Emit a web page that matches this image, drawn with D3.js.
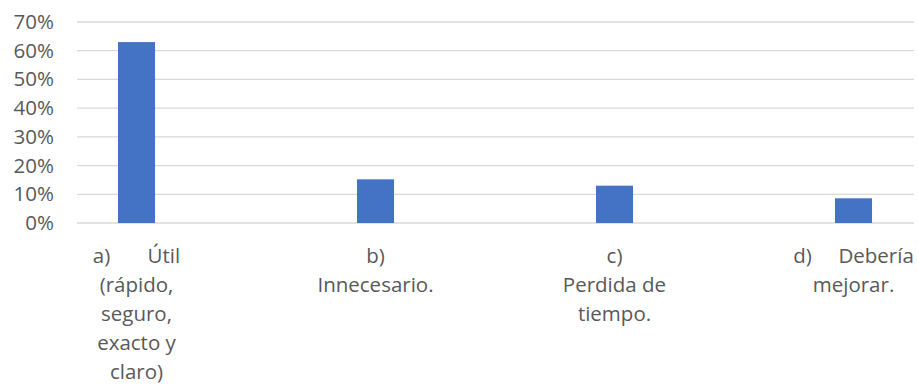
<!DOCTYPE html>
<html>
<head>
<meta charset="utf-8">
<script src="https://cdn.jsdelivr.net/npm/d3@7"></script>
<style>
  html, body { margin: 0; padding: 0; background: #fff; }
  svg { display: block; font-family: "Open Sans", "Noto Sans", sans-serif; }
  .tick text { white-space: pre; }
</style>
</head>
<body>
<svg id="chart" width="918" height="385"></svg>
<script>
// Survey answers and their shares
const categories = ["a", "b", "c", "d"];
const labelLines = [
  ["a)       Útil", "(rápido,", "seguro,", "exacto y", "claro)"],
  ["b)", "Innecesario."],
  ["c)", "Perdida de", "tiempo."],
  ["d)     Debería", "mejorar."]
];
const values = [0.63, 0.152, 0.13, 0.086];
const yTicks = [0, 0.1, 0.2, 0.3, 0.4, 0.5, 0.6, 0.7];

const plotLeft = 77, plotRight = 914, plotTop = 22, plotBottom = 223;
const fontSize = "20.5px";

const svg = d3.select("#chart");

const x = d3.scaleBand()
  .domain(categories)
  .range([17, 973])
  .paddingInner(0.845)
  .paddingOuter(0.4225);

const y = d3.scaleLinear()
  .domain([0, 0.7])
  .range([plotBottom, plotTop]);

// Horizontal gridlines
svg.append("g")
  .selectAll("line")
  .data(yTicks)
  .join("line")
  .attr("x1", plotLeft)
  .attr("x2", plotRight)
  .attr("y1", d => y(d))
  .attr("y2", d => y(d))
  .attr("stroke", "#d9d9d9")
  .attr("stroke-width", 1.3);

// Y axis labels
const yAxis = d3.axisLeft(y)
  .tickValues(yTicks)
  .tickFormat(d3.format(".0%"))
  .tickSize(0)
  .tickPadding(0);

const gy = svg.append("g")
  .attr("transform", `translate(54,0)`)
  .call(yAxis);
gy.select(".domain").remove();
gy.selectAll("text")
  .attr("fill", "#595959")
  .style("font-size", fontSize)
  .style("font-family", "'Open Sans', sans-serif");

// Bars
svg.append("g")
  .selectAll("rect")
  .data(values)
  .join("rect")
  .attr("x", (d, i) => x(categories[i]))
  .attr("width", x.bandwidth())
  .attr("y", d => y(d))
  .attr("height", d => y(0) - y(d))
  .attr("fill", "#4472c4");

// Category labels, one text block per answer
const labels = svg.append("g")
  .selectAll("text")
  .data(categories)
  .join("text")
  .attr("text-anchor", "middle")
  .attr("fill", "#595959")
  .style("font-size", fontSize)
  .style("white-space", "pre");

labels.each(function(c, i) {
  const cx = x(c) + x.bandwidth() / 2;
  d3.select(this).selectAll("tspan")
    .data(labelLines[i])
    .join("tspan")
    .attr("x", cx)
    .attr("y", (d, j) => 263 + j * 29)
    .text(d => d);
});
</script>
</body>
</html>
